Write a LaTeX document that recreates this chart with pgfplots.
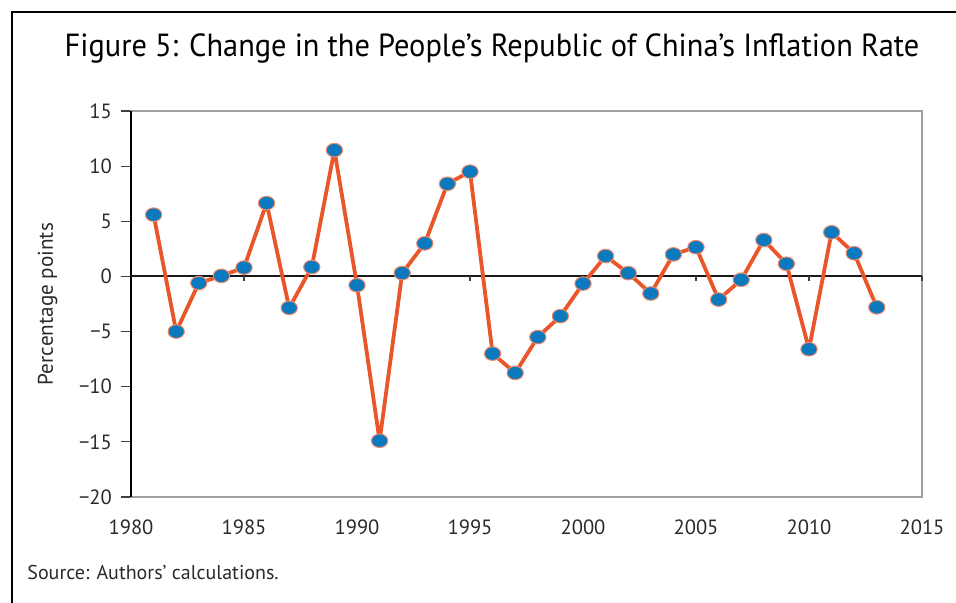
\documentclass[border=0pt]{standalone}
\usepackage{fontspec}
\setmainfont{PT Sans}
\usepackage{pgfplots}
\pgfplotsset{compat=1.18}
\definecolor{lineor}{HTML}{E8562A}
\definecolor{markbl}{HTML}{0A79BD}
\definecolor{boxgray}{HTML}{A0A0A0}
\definecolor{txt}{HTML}{2A2A2A}
\begin{document}
\begin{tikzpicture}
\path[use as bounding box] (0pt,0pt) rectangle (478pt,301.5pt);
% frame
\draw[black,line width=1pt] (6pt,0pt) -- (6pt,295.5pt) -- (478pt,295.5pt);
% title
\node[anchor=base,font=\fontsize{16}{18}\selectfont,text=black,xscale=0.95] at (246pt,273pt) {Figure 5: Change in the People’s Republic of China’s Inflation Rate};
% source
\node[anchor=base west,font=\fontsize{10}{12}\selectfont,text=txt,inner sep=0pt] at (13.5pt,11.5pt) {Source: Authors’ calculations.};
\begin{axis}[
  at={(65.5pt,53pt)}, anchor=south west,
  scale only axis, width=395.5pt, height=193pt,
  xmin=1980, xmax=2015, ymin=-20, ymax=15,
  xtick={1980,1985,...,2015},
  ytick={-20,-15,...,15},
  yticklabels={−20,−15,−10,−5,0,5,10,15},
  xticklabels={1980,1985,1990,1995,2000,2005,2010,2015},
  xtick pos=bottom, ytick pos=left,
  tick align=outside,
  x tick style={draw=none},
  y tick style={draw=black!75,line width=0.6pt},
  major tick length=5pt,
  axis line style={draw=boxgray,line width=0.8pt},
  tick label style={font=\fontsize{10.3}{12}\selectfont,text=txt},
  xticklabel style={yshift=-3pt},
  yticklabel style={xshift=-1pt},
  ylabel={Percentage points},
  ylabel style={font=\fontsize{10.6}{12}\selectfont,text=txt,yshift=4pt},
  clip=false,
]
\draw[black,line width=1pt] (axis cs:1980,-20) -- (axis cs:1980,15);
\draw[black!90,line width=1pt] (axis cs:1980,0) -- (axis cs:2015,0);
\draw[black!75,line width=0.6pt] (axis cs:1985,0) -- ++(0pt,-2.5pt);
\draw[black!75,line width=0.6pt] (axis cs:1990,0) -- ++(0pt,-2.5pt);
\draw[black!75,line width=0.6pt] (axis cs:1995,0) -- ++(0pt,-2.5pt);
\draw[black!75,line width=0.6pt] (axis cs:2000,0) -- ++(0pt,-2.5pt);
\draw[black!75,line width=0.6pt] (axis cs:2005,0) -- ++(0pt,-2.5pt);
\draw[black!75,line width=0.6pt] (axis cs:2010,0) -- ++(0pt,-2.5pt);
\draw[black!75,line width=0.6pt] (axis cs:2015,0) -- ++(0pt,-2.5pt);
\addplot[lineor,line width=1.9pt,line join=round,mark=*,mark size=3.4pt,
  mark options={fill=markbl,draw=lineor!70!white,line width=0.5pt,xscale=1.2}]
coordinates {
(1981,5.6) (1982,-5.0) (1983,-0.6) (1984,0.05) (1985,0.8) (1986,6.65)
(1987,-2.85) (1988,0.85) (1989,11.45) (1990,-0.8) (1991,-14.9) (1992,0.3)
(1993,3.0) (1994,8.4) (1995,9.5) (1996,-7.0) (1997,-8.75) (1998,-5.5)
(1999,-3.6) (2000,-0.65) (2001,1.85) (2002,0.3) (2003,-1.55) (2004,2.0)
(2005,2.65) (2006,-2.1) (2007,-0.3) (2008,3.3) (2009,1.15) (2010,-6.6)
(2011,4.0) (2012,2.1) (2013,-2.8)
};
\end{axis}
\end{tikzpicture}
\end{document}
